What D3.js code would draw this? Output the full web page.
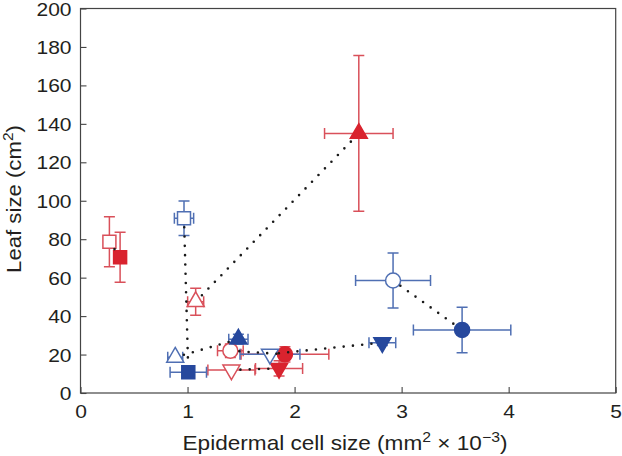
<!DOCTYPE html>
<html><head><meta charset="utf-8">
<script src="https://cdn.jsdelivr.net/npm/d3@7"></script>
<style>body{margin:0;background:#fff}svg{display:block}text{font-family:"Liberation Sans",Arial,sans-serif;fill:#231f20}</style>
</head><body><svg id="c" width="622" height="456"></svg>
<script>
// Data (epidermal cell size, mm2 x 10^-3 ; leaf size, cm2)
const groups   = ["red","red","red","red","red","red","red","red","blue","blue","blue","blue","blue","blue","blue","blue"];
const shapes   = ["square","square","triangle","triangle","circle","circle","triDown","triDown","square","square","triangle","triangle","circle","circle","triDown","triDown"];
const filled   = [false,true,false,true,false,true,false,true,false,true,false,true,false,true,false,true];
const cellSize = [0.27,0.37,1.076,2.60,1.40,1.91,1.41,1.855, 0.967,1.007,0.885,1.475,2.92,3.565,1.77,2.82];
const cellErr  = [0.0,0.0,0.075,0.32,0.12,0.41,0.22,0.22, 0.09,0.17,0.07,0.09,0.35,0.455,0.28,0.125];
const leafSize = [78.7,70.6,47.5,135,22,20.1,12,12.8, 90.9,10.8,18.6,28,58.5,32.8,20.2,26.2];
const leafErr  = [13,13,7,40.5,3.5,4,0,4, 9,0,0,2.5,14.3,11.8,0,1.5];
const pairs    = [[0,1],[2,3],[4,5],[6,7],[8,9],[10,11],[12,13],[14,15]];
const xTicks = [0,1,2,3,4,5];
const yTicks = [0,20,40,60,80,100,120,140,160,180,200];

const fillCol = {red:"#d9232e", blue:"#26489d"};
const barCol  = {red:"#d9505a", blue:"#4f6fb3"};

const svg = d3.select("#c");
const m = {l:80.5, r:6.3, t:8.5, b:63};
const W = 622, H = 456;
const x = d3.scaleLinear().domain([0,5]).range([m.l, W-m.r]);
const y = d3.scaleLinear().domain([0,200]).range([H-m.b, m.t]);

// axes with inward ticks
const gx = svg.append("g").attr("transform",`translate(0,${H-m.b})`)
  .call(d3.axisBottom(x).tickValues(xTicks).tickSize(-6).tickPadding(12).tickFormat(d3.format("d")));
const gy = svg.append("g").attr("transform",`translate(${m.l},0)`)
  .call(d3.axisLeft(y).tickValues(yTicks).tickSize(-6).tickPadding(9).tickFormat(d3.format("d")));
[gx,gy].forEach(g=>{
  g.select(".domain").remove();
  g.selectAll(".tick line").attr("stroke","#444").attr("stroke-width",1.1);
  g.selectAll(".tick text").style("font-size","17.5px").attr("fill","#231f20");
});
gx.selectAll(".tick text").attr("y",0).attr("dy","0").attr("transform","translate(0,24.5) scale(1.2,1)");
gy.selectAll(".tick text").attr("x",0).attr("dy","0").attr("transform","translate(-9,6.5) scale(1.2,1)");
// frame
svg.append("rect").attr("x",m.l).attr("y",m.t).attr("width",W-m.r-m.l).attr("height",H-m.b-m.t)
  .attr("fill","none").attr("stroke","#444").attr("stroke-width",1.2);

const data = cellSize.map((v,i)=>({x:v,xe:cellErr[i],y:leafSize[i],ye:leafErr[i],g:groups[i],s:shapes[i],f:filled[i]}));

// error bars
const cap = 5.5;
const eb = svg.append("g").attr("fill","none").attr("stroke-width",1.5);
data.forEach(d=>{
  const c = barCol[d.g];
  const cx = x(d.x), cy = y(d.y);
  if (d.xe>0){
    const x0=x(d.x-d.xe), x1=x(d.x+d.xe);
    eb.append("path").attr("stroke",c)
      .attr("d",`M${x0},${cy}H${x1}M${x0},${cy-cap}V${cy+cap}M${x1},${cy-cap}V${cy+cap}`);
  }
  if (d.ye>0){
    const y0=y(d.y-d.ye), y1=y(d.y+d.ye);
    eb.append("path").attr("stroke",c)
      .attr("d",`M${cx},${y0}V${y1}M${cx-cap},${y0}H${cx+cap}M${cx-cap},${y1}H${cx+cap}`);
  }
});

// markers
function shapePath(s){
  if (s==="square"){const h=6.5;return `M${-h},${-h}H${h}V${h}H${-h}Z`;}
  if (s==="circle"){const r=7.5;return `M${r},0A${r},${r},0,1,1,${-r},0A${r},${r},0,1,1,${r},0Z`;}
  const a=17, h=a*Math.sqrt(3)/2;
  if (s==="triangle") return `M0,${-2*h/3}L${a/2},${h/3}L${-a/2},${h/3}Z`;
  return `M0,${2*h/3}L${a/2},${-h/3}L${-a/2},${-h/3}Z`;
}
svg.append("g").selectAll("path").data(data).join("path")
  .attr("transform",d=>`translate(${x(d.x)},${y(d.y)})`)
  .attr("d",d=>shapePath(d.s))
  .attr("fill",d=>d.f?fillCol[d.g]:"#fff")
  .attr("stroke",d=>d.f?fillCol[d.g]:barCol[d.g])
  .attr("stroke-width",1.5);

// dotted connecting lines (start just outside the open marker, stop at the filled marker's edge)
const gapStart = 9, gapEnd = 7;
function seg(p){
  const x1=x(cellSize[p[0]]), y1=y(leafSize[p[0]]), x2=x(cellSize[p[1]]), y2=y(leafSize[p[1]]);
  const L=Math.hypot(x2-x1,y2-y1), ux=(x2-x1)/L, uy=(y2-y1)/L;
  return {x1:x1+ux*gapStart, y1:y1+uy*gapStart, x2:x2-ux*gapEnd, y2:y2-uy*gapEnd};
}
svg.append("g").selectAll("line").data(pairs.map(seg)).join("line")
  .attr("x1",s=>s.x1).attr("y1",s=>s.y1).attr("x2",s=>s.x2).attr("y2",s=>s.y2)
  .attr("stroke","#1a1a1a").attr("stroke-width",2.6).attr("stroke-linecap","round")
  .attr("stroke-dasharray","0 9.3");

// axis titles
const xt = svg.append("text").attr("transform","translate(345,450) scale(1.13,1)").attr("text-anchor","middle").style("font-size","20px");
xt.append("tspan").text("Epidermal cell size (mm");
xt.append("tspan").text("2").attr("dy",-8).style("font-size","14px");
xt.append("tspan").text(" \u00d7 10").attr("dy",8);
xt.append("tspan").text("\u22123").attr("dy",-8).style("font-size","14px");
xt.append("tspan").text(")").attr("dy",8);

const yt = svg.append("text").attr("transform","translate(20.5,199) rotate(-90) scale(1.11,1)").attr("text-anchor","middle").style("font-size","20px");
yt.append("tspan").text("Leaf size (cm");
yt.append("tspan").text("2").attr("dy",-8).style("font-size","14px");
yt.append("tspan").text(")").attr("dy",8);
</script></body></html>
